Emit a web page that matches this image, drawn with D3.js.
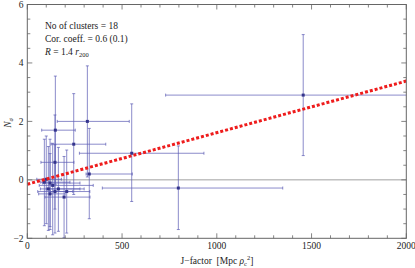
<!DOCTYPE html>
<html><head><meta charset="utf-8">
<script src="https://cdn.jsdelivr.net/npm/d3@7"></script>
<style>body{margin:0;background:#fff}svg{display:block}</style>
</head><body><svg id="c" width="415" height="268" font-family="'Liberation Serif', 'Times New Roman', 'DejaVu Serif', serif"></svg>
<script>
// Data
const jFactor = [1456, 797, 551, 317, 327, 148, 245, 146, 90, 120, 134, 111, 146, 164, 208, 194, 120, 100];
const jLow    = [730, 396, 275, 158, 310, 76, 125, 72, 71, 81, 63, 69, 55, 100, 120, 93, 60, 50];
const jHigh   = [2300, 1348, 932, 538, 554, 253, 414, 246, 225, 278, 348, 278, 240, 300, 330, 331, 200, 180];
const nSigma  = [2.90, -0.28, 0.91, 2.00, 0.20, 1.70, 1.22, 0.60, -0.08, -0.11, -0.19, -0.31, -0.40, -0.31, -0.40, -0.59, -0.48, 0.02];
const nLow    = [0.83, -1.70, -0.74, 0.10, -1.33, -0.15, -0.50, -1.00, -1.57, -1.60, -1.88, -1.73, -1.82, -1.76, -1.82, -1.98, -1.70, -1.50];
const nHigh   = [4.97, 1.16, 2.60, 3.90, 1.76, 3.55, 2.95, 2.22, 1.39, 1.39, 1.25, 1.14, 1.20, 1.11, 1.02, 0.80, 0.90, 1.50];
const fitX = [0, 2000];
const fitY = [-0.15, 3.38];
const xTicks = [0, 500, 1000, 1500, 2000];
const yTicks = [-2, 0, 2, 4, 6];
const infoLines = ["No of clusters = 18", "Cor. coeff. = 0.6 (0.1)"];

const svg = d3.select("#c");
const L = 27.3, R = 406.3, T = 4.5, B = 238.3;
const x = d3.scaleLinear().domain([0, 2000]).range([L, R]);
const y = d3.scaleLinear().domain([-2, 6]).range([B, T]);

svg.append("defs").append("clipPath").attr("id", "pc")
  .append("rect").attr("x", L).attr("y", T).attr("width", R - L).attr("height", B - T);

const plot = svg.append("g").attr("clip-path", "url(#pc)");

// zero line
plot.append("line").attr("x1", L).attr("x2", R).attr("y1", y(0)).attr("y2", y(0))
  .attr("stroke", "#a0a0a0").attr("stroke-width", 1);

// error bars
const eb = plot.append("g").attr("stroke", "#5a5ab4").attr("stroke-opacity", 0.7).attr("stroke-width", 1).attr("fill", "none");
const idx = d3.range(jFactor.length);
idx.forEach(i => {
  const px = x(jFactor[i]), py = y(nSigma[i]);
  eb.append("line").attr("x1", px).attr("x2", px).attr("y1", y(nLow[i])).attr("y2", y(nHigh[i]));
  eb.append("line").attr("x1", x(jLow[i])).attr("x2", x(jHigh[i])).attr("y1", py).attr("y2", py);
  eb.append("line").attr("x1", px - 1.5).attr("x2", px + 1.5).attr("y1", y(nLow[i])).attr("y2", y(nLow[i]));
  eb.append("line").attr("x1", px - 1.5).attr("x2", px + 1.5).attr("y1", y(nHigh[i])).attr("y2", y(nHigh[i]));
  eb.append("line").attr("x1", x(jLow[i])).attr("x2", x(jLow[i])).attr("y1", py - 1.5).attr("y2", py + 1.5);
  eb.append("line").attr("x1", x(jHigh[i])).attr("x2", x(jHigh[i])).attr("y1", py - 1.5).attr("y2", py + 1.5);
});
plot.append("g").selectAll("rect").data(idx).join("rect")
  .attr("x", i => x(jFactor[i]) - 1.5).attr("y", i => y(nSigma[i]) - 1.5)
  .attr("width", 3).attr("height", 3).attr("fill", "#34348c");

// fit line
plot.append("line").attr("x1", x(fitX[0])).attr("y1", y(fitY[0])).attr("x2", x(fitX[1])).attr("y2", y(fitY[1]))
  .attr("stroke", "#ee1c1c").attr("stroke-width", 3).attr("stroke-dasharray", "3,2");

// frame
const fc = "#666";
svg.append("rect").attr("x", L).attr("y", T).attr("width", R - L).attr("height", B - T)
  .attr("fill", "none").attr("stroke", fc).attr("stroke-width", 1);

const tk = svg.append("g").attr("stroke", fc).attr("stroke-width", 0.8);
d3.range(0, 2001, 100).forEach(v => {
  const major = v % 500 === 0, len = major ? 5 : 3;
  tk.append("line").attr("x1", x(v)).attr("x2", x(v)).attr("y1", B).attr("y2", B - len);
  tk.append("line").attr("x1", x(v)).attr("x2", x(v)).attr("y1", T).attr("y2", T + len);
});
d3.range(-2, 6.01, 0.5).forEach(v => {
  const major = Math.abs(v % 2) < 1e-9, len = major ? 5 : 3;
  tk.append("line").attr("x1", L).attr("x2", L + len).attr("y1", y(v)).attr("y2", y(v));
  tk.append("line").attr("x1", R).attr("x2", R - len).attr("y1", y(v)).attr("y2", y(v));
});

// tick labels
svg.append("g").selectAll("text").data(xTicks).join("text")
  .attr("x", d => x(d)).attr("y", 249).attr("text-anchor", "middle")
  .attr("font-size", 9.5).attr("fill", "#222").text(d => d);
svg.append("g").selectAll("text").data(yTicks).join("text")
  .attr("x", 23.5).attr("y", d => y(d) + 3.3).attr("text-anchor", "end")
  .attr("font-size", 9.5).attr("fill", "#222").text(d => d < 0 ? "\u2212" + Math.abs(d) : d);

// axis labels
const xl = svg.append("text").attr("x", 217).attr("y", 264).attr("text-anchor", "middle")
  .attr("font-size", 9.5).attr("fill", "#222").attr("xml:space", "preserve");
xl.append("tspan").text("J\u2212factor\u00A0\u00A0[Mpc ");
xl.append("tspan").attr("font-style", "italic").text("\u03C1");
xl.append("tspan").attr("font-size", 6.5).attr("dy", 2).text("c");
xl.append("tspan").attr("font-size", 6.5).attr("dy", -6).text("2");
xl.append("tspan").attr("dy", 4).text("]");

const yl = svg.append("text").attr("transform", "translate(11,123) rotate(-90)")
  .attr("text-anchor", "middle").attr("font-size", 9.5).attr("fill", "#222");
yl.append("tspan").attr("font-style", "italic").text("N");
yl.append("tspan").attr("font-size", 6.5).attr("dy", 2).attr("font-style", "italic").text("\u03C3");

// info text
const info = svg.append("g").attr("font-size", 9.5).attr("fill", "#222");
infoLines.forEach((s, i) => info.append("text").attr("x", 45).attr("y", 29 + i * 13).text(s));
const r3 = info.append("text").attr("x", 45).attr("y", 55);
r3.append("tspan").attr("font-style", "italic").text("R");
r3.append("tspan").text(" = 1.4 ");
r3.append("tspan").attr("font-style", "italic").text("r");
r3.append("tspan").attr("font-size", 6.5).attr("dy", 2).text("200");
</script></body></html>
